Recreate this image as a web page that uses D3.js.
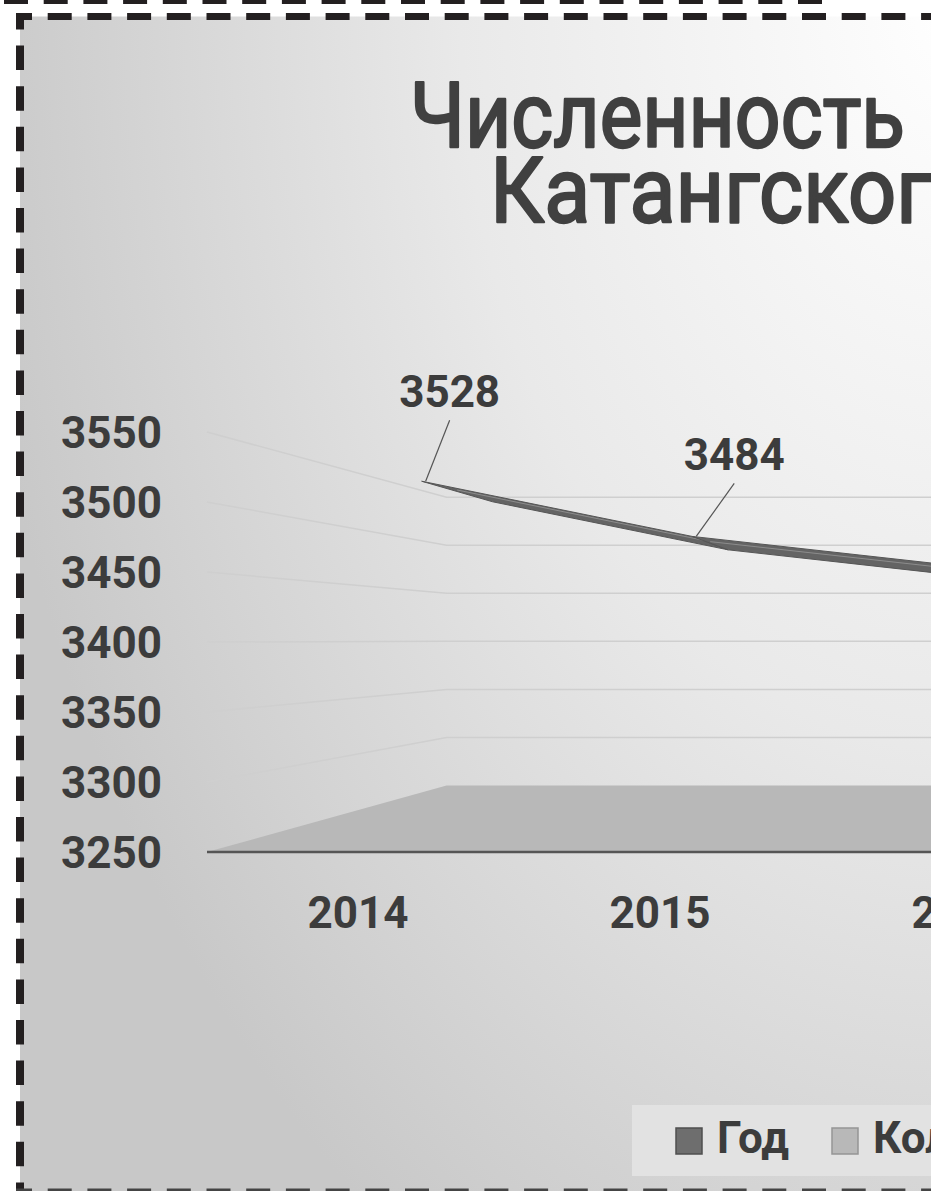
<!DOCTYPE html>
<html>
<head>
<meta charset="utf-8">
<script src="https://cdn.jsdelivr.net/npm/d3@7"></script>
<style>
  html, body { margin: 0; padding: 0; background: #fff; }
  svg { display: block; }
  text { font-family: Roboto, "Noto Sans", sans-serif; }
</style>
</head>
<body>
<div id="chart"></div>
<script>
/* Data */
var years = ["2014", "2015", "2016"];
var population = [3528, 3484, 3460];
var yTicks = [3250, 3300, 3350, 3400, 3450, 3500, 3550];
var seriesNames = ["Год", "Количество"];
var seriesColors = ["#6e6e6e", "#b8b8b8"];
var titleLines = ["Численность", "Катангского"];

var width = 931, height = 1191;

/* perspective: vanishing point and depths (1 = front edge) */
var vp = [970, 640];
var wallDepth = 0.686;
var ribbonFront = 0.896, ribbonBack = 0.78;
var labelNudge = [[28, -61], [42, -53], [40, -57]];

var svg = d3.select("#chart").append("svg")
    .attr("width", width)
    .attr("height", height);

/* background gradient */
var defs = svg.append("defs");
var grad = defs.append("radialGradient")
    .attr("id", "bg")
    .attr("gradientUnits", "userSpaceOnUse")
    .attr("cx", 0).attr("cy", 0).attr("r", 1)
    .attr("gradientTransform", "translate(960,0) scale(1000,1500)");
grad.append("stop").attr("offset", 0).attr("stop-color", "#ffffff");
grad.append("stop").attr("offset", 0.5).attr("stop-color", "#e9e9e9");
grad.append("stop").attr("offset", 1).attr("stop-color", "#c8c8c8");

svg.append("rect")
    .attr("x", 20).attr("y", 16.5)
    .attr("width", width - 20).attr("height", height - 16.5)
    .attr("fill", "url(#bg)");

/* Scales */
var x = d3.scaleBand()
    .domain(years)
    .range([207, 207 + 302 * years.length]);
var y = d3.scaleLinear()
    .domain([3250, 3550])
    .range([852, 432]);

function project(xf, yf, s) {
    return [vp[0] + (xf - vp[0]) * s, vp[1] + (yf - vp[1]) * s];
}

var x0 = x.range()[0];

/* floor */
var floorPts = [
    project(x0, y(3250), 1),
    project(x0, y(3250), wallDepth),
    [1300, project(x0, y(3250), wallDepth)[1]],
    [1300, y(3250)]
];
svg.append("polygon")
    .attr("points", floorPts.map(function(p) { return p.join(","); }).join(" "))
    .attr("fill", seriesColors[1]);

/* grid lines on side and back walls */
var grid = svg.append("g");
yTicks.filter(function(v) { return v > 3250; }).forEach(function(v) {
    var a = project(x0, y(v), 1), b = project(x0, y(v), wallDepth);
    grid.append("path")
        .attr("d", "M" + a + "L" + b + "L" + [1300, b[1]])
        .attr("fill", "none")
        .attr("stroke", "#cfcfcf")
        .attr("stroke-width", 1.5);
});

/* front floor edge */
svg.append("line")
    .attr("x1", x0).attr("x2", 1300)
    .attr("y1", y(3250)).attr("y2", y(3250))
    .attr("stroke", "#555")
    .attr("stroke-width", 2.5);

/* Y axis */
var yAxis = d3.axisLeft(y).tickValues(yTicks).tickFormat(d3.format("d")).tickSize(0).tickPadding(45);
svg.append("g")
    .attr("transform", "translate(" + x0 + ",0)")
    .call(yAxis)
    .call(function(g) { g.select(".domain").remove(); })
    .selectAll("text")
    .attr("dy", "0.36em")
    .style("font-family", "Roboto, sans-serif")
    .style("font-size", "44px")
    .style("font-weight", "bold")
    .attr("fill", "#3c3c3c");

/* X axis */
var xAxis = d3.axisBottom(x).tickSize(0).tickPadding(45);
svg.append("g")
    .attr("transform", "translate(0," + y(3250) + ")")
    .call(xAxis)
    .call(function(g) { g.select(".domain").remove(); })
    .selectAll("text")
    .style("font-family", "Roboto, sans-serif")
    .style("font-size", "44px")
    .style("font-weight", "bold")
    .attr("fill", "#3c3c3c");

/* 3D ribbon for the population line */
var pts = years.map(function(yr, i) {
    var xf = x(yr) + x.bandwidth() / 2, yf = y(population[i]);
    return { front: project(xf, yf, ribbonFront), back: project(xf, yf, ribbonBack) };
});
var ribbon = svg.append("g");
d3.pairs(pts).forEach(function(pr) {
    var poly = [pr[0].front, pr[1].front, pr[1].back, pr[0].back];
    ribbon.append("polygon")
        .attr("points", poly.map(function(p) { return p.join(","); }).join(" "))
        .attr("fill", "#646464")
        .attr("stroke", "#555")
        .attr("stroke-width", 1)
        .attr("stroke-linejoin", "round");
    // lighter streak along the middle
    var m0 = [(pr[0].front[0] + pr[0].back[0]) / 2, (pr[0].front[1] + pr[0].back[1]) / 2];
    var m1 = [(pr[1].front[0] + pr[1].back[0]) / 2, (pr[1].front[1] + pr[1].back[1]) / 2];
    ribbon.append("line")
        .attr("x1", m0[0]).attr("y1", m0[1] - 1.5)
        .attr("x2", m1[0]).attr("y2", m1[1] - 1.5)
        .attr("stroke", "#8c8c8c")
        .attr("stroke-width", 1);
});

/* data labels with leader lines */
var labels = svg.append("g");
pts.forEach(function(p, i) {
    var lx = p.front[0] + labelNudge[i][0], ly = p.front[1] + labelNudge[i][1];
    labels.append("line")
        .attr("x1", lx).attr("y1", ly)
        .attr("x2", p.front[0] + 4).attr("y2", p.front[1])
        .attr("stroke", "#555")
        .attr("stroke-width", 1.2);
    labels.append("text")
        .attr("x", lx)
        .attr("y", ly - 13)
        .attr("text-anchor", "middle")
        .style("font-size", "44px")
        .style("font-weight", "bold")
        .attr("fill", "#3c3c3c")
        .text(population[i]);
});

/* Title: two lines, squeezed horizontally to the DIN-like width */
function titleLine(txt, tx, ty, visChars, visWidth) {
    var g = svg.append("g");
    var t = g.append("text")
        .style("font-size", "90px")
        .attr("fill", "#404040")
        .attr("stroke", "#404040")
        .attr("stroke-width", 2.4)
        .attr("stroke-linejoin", "round")
        .text(txt);
    var w = t.node().getSubStringLength(0, visChars);
    g.attr("transform", "translate(" + tx + "," + ty + ") scale(" + (visWidth / w) + ",1)");
}
titleLine(titleLines[0], 410, 147, 11, 495);
titleLine(titleLines[1], 490, 222, 10, 441);

/* Legend */
var legend = svg.append("g");
legend.append("rect")
    .attr("x", 632).attr("y", 1105)
    .attr("width", 400).attr("height", 71)
    .attr("fill", "#e2e2e2");
var legendX = [676, 832];
seriesNames.forEach(function(name, i) {
    legend.append("rect")
        .attr("x", legendX[i]).attr("y", 1128)
        .attr("width", 26).attr("height", 26)
        .attr("fill", seriesColors[i])
        .attr("stroke", i === 0 ? "#4f4f4f" : "#959595")
        .attr("stroke-width", 1.5);
    legend.append("text")
        .attr("x", legendX[i] + 41)
        .attr("y", 1153)
        .style("font-size", "44px")
        .style("font-weight", "bold")
        .attr("fill", "#3c3c3c")
        .text(name);
});

/* dashed borders */
svg.append("line")
    .attr("x1", 4).attr("x2", 822).attr("y1", 2).attr("y2", 2)
    .attr("stroke", "#231f20").attr("stroke-width", 4)
    .attr("stroke-dasharray", "24 15.7");
svg.append("line")
    .attr("x1", 16).attr("x2", width).attr("y1", 16.5).attr("y2", 16.5)
    .attr("stroke", "#231f20").attr("stroke-width", 7)
    .attr("stroke-dasharray", "24 15.7").attr("stroke-dashoffset", 8);
svg.append("line")
    .attr("x1", 20).attr("x2", 20).attr("y1", 13).attr("y2", height)
    .attr("stroke", "#231f20").attr("stroke-width", 8)
    .attr("stroke-dasharray", "24.5 16.1").attr("stroke-dashoffset", 8);
svg.append("line")
    .attr("x1", 16).attr("x2", width).attr("y1", 1192).attr("y2", 1192)
    .attr("stroke", "#444").attr("stroke-width", 7)
    .attr("stroke-dasharray", "24 15.7").attr("stroke-dashoffset", 8);
</script>
</body>
</html>
